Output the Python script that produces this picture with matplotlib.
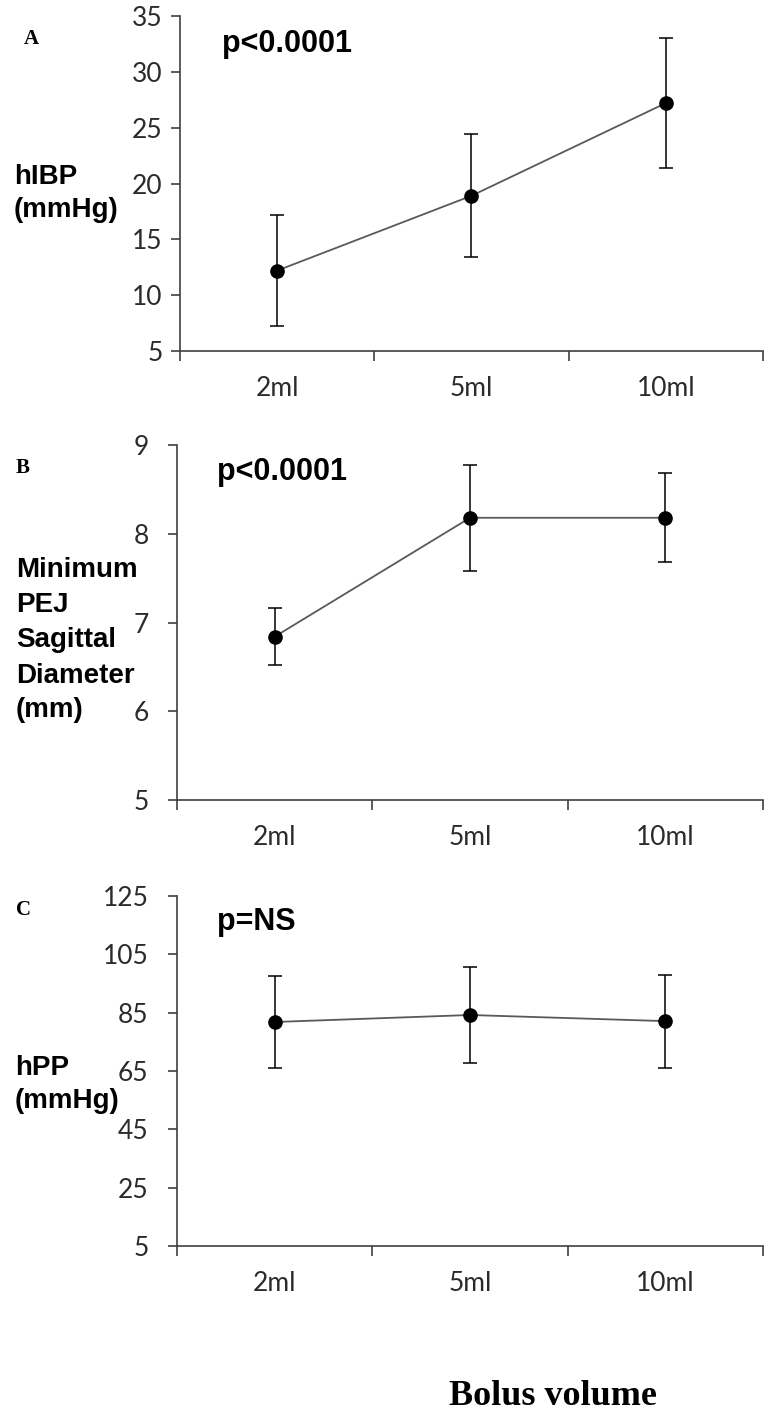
import matplotlib.pyplot as plt
from matplotlib.ticker import FixedLocator, NullFormatter, FixedFormatter

# bolus volumes on the x axis
volumes = ["2ml", "5ml", "10ml"]

# panel A: hIBP (mmHg)
hibp_mean = [12.2, 18.9, 27.2]
hibp_err = [4.95, 5.5, 5.8]

# panel B: minimum PEJ sagittal diameter (mm)
pej_mean = [6.84, 8.18, 8.18]
pej_err = [0.32, 0.60, 0.50]

# panel C: hPP (mmHg)
hpp_mean = [81.8, 84.2, 82.1]
hpp_err = [15.9, 16.6, 15.9]

W, H = 765, 1418
fig = plt.figure(figsize=(W / 100, H / 100), dpi=100)


def fx(x):
    return x / W


def fy(y):
    return 1 - y / H


tick_font = "Lato"
bold_font = "Liberation Sans"
serif_font = "Liberation Serif"


def make_panel(rect, mean, err, ylim, ystep, ypad):
    ax = fig.add_axes(rect)
    xs = list(range(len(volumes)))
    ax.plot(xs, mean, color="#595959", lw=1.3, zorder=2)
    ax.errorbar(xs, mean, yerr=err, fmt="o", color="black", ms=9.5,
                ecolor="black", elinewidth=1.1, capsize=5, capthick=1.1, zorder=3)
    ax.set_xlim(-0.5, len(volumes) - 0.5)
    ax.set_ylim(*ylim)
    yt = list(range(ylim[0], ylim[1] + 1, ystep))
    ax.set_yticks(yt)
    ax.set_yticklabels([str(v) for v in yt], fontfamily=tick_font, fontsize=19, color="#2b2b2b")
    # category boundary ticks, labels centred on the categories
    ax.xaxis.set_major_locator(FixedLocator([i - 0.5 for i in range(len(volumes) + 1)]))
    ax.xaxis.set_major_formatter(NullFormatter())
    ax.xaxis.set_minor_locator(FixedLocator(xs))
    ax.xaxis.set_minor_formatter(FixedFormatter(volumes))
    ax.tick_params(axis="x", which="major", length=7, width=1.2, color="#404040", direction="out")
    ax.tick_params(axis="x", which="minor", length=0, pad=18)
    ax.tick_params(axis="y", length=6.5, width=1.2, color="#404040", pad=ypad)
    for lab in ax.get_xticklabels(minor=True):
        lab.set_fontfamily(tick_font)
        lab.set_fontsize(19)
        lab.set_color("#2b2b2b")
    for s in ["top", "right"]:
        ax.spines[s].set_visible(False)
    for s in ["left", "bottom"]:
        ax.spines[s].set_color("#404040")
        ax.spines[s].set_linewidth(1.2)
    ax.set_facecolor("none")
    return ax


axA = make_panel([fx(180), fy(351), (763 - 180) / W, 335 / H],
                 hibp_mean, hibp_err, (5, 35), 5, 6)
axB = make_panel([fx(177), fy(800), (763 - 177) / W, 355 / H],
                 pej_mean, pej_err, (5, 9), 1, 14)
axC = make_panel([fx(177), fy(1246), (763 - 177) / W, 350 / H],
                 hpp_mean, hpp_err, (5, 125), 20, 14)

# panel letters
fig.text(fx(24), fy(44), "A", fontfamily=serif_font, fontweight="bold", fontsize=15)
fig.text(fx(16), fy(473), "B", fontfamily=serif_font, fontweight="bold", fontsize=15)
fig.text(fx(16), fy(915), "C", fontfamily=serif_font, fontweight="bold", fontsize=15)

# p values
fig.text(fx(222), fy(52), "p<0.0001", fontfamily=bold_font, fontweight="bold", fontsize=22)
fig.text(fx(217), fy(480), "p<0.0001", fontfamily=bold_font, fontweight="bold", fontsize=22)
fig.text(fx(217), fy(930), "p=NS", fontfamily=bold_font, fontweight="bold", fontsize=22)

# y axis labels, one text per line like the original
label_style = dict(fontfamily=bold_font, fontweight="bold", fontsize=20, va="baseline")
for txt, yb in [("hIBP", 184), ("(mmHg)", 217)]:
    fig.text(fx(14), fy(yb), txt, **label_style)
for txt, yb in [("Minimum", 577), ("PEJ", 612), ("Sagittal", 647),
                ("Diameter", 683), ("(mm)", 717)]:
    fig.text(fx(16), fy(yb), txt, **label_style)
for txt, yb in [("hPP", 1075), ("(mmHg)", 1108)]:
    fig.text(fx(15), fy(yb), txt, **label_style)

# x axis title
fig.text(fx(553), fy(1405), "Bolus volume", fontfamily=serif_font, fontweight="bold",
         fontsize=26, ha="center", va="baseline")

fig.savefig("out.png", dpi=100)
